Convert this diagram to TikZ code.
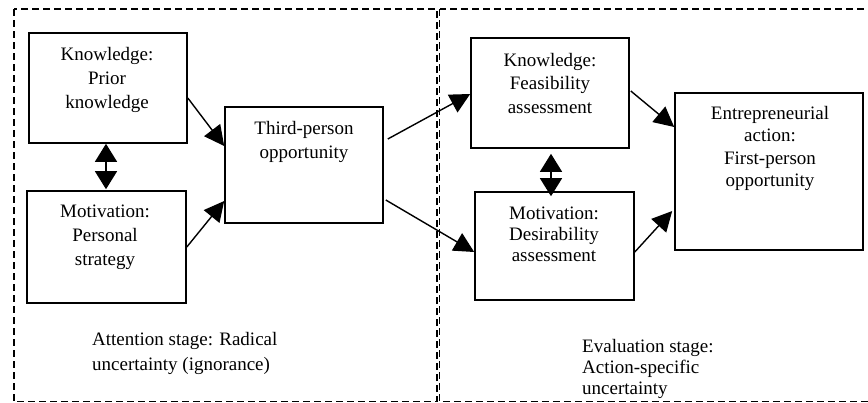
\documentclass[tikz,border=0pt]{standalone}
\usepackage{fontspec}
\setmainfont{Liberation Serif}
\usetikzlibrary{arrows.meta,calc}
\begin{document}
\begin{tikzpicture}[x=1pt,y=-1pt,
 box/.style={draw,line width=1.6pt,inner sep=0pt},
 txt/.style={align=center,inner sep=0pt,anchor=base},
 ltxt/.style={align=left,inner sep=0pt,anchor=base west},
 fs/.style={font=\fontsize{19}{#1}\selectfont},
 arr/.style={line width=1.4pt,-{Triangle[length=20pt,width=20pt]}},
 dbl/.style={line width=1.4pt,{Triangle[length=18pt,width=22pt]}-{Triangle[length=18pt,width=22pt]}},
 stage/.style={line width=1.3pt,dash pattern=on 7pt off 4pt}]
\useasboundingbox (0,0) rectangle (868,402);
% stage frames
\draw[stage] (14,9) rectangle (437,401.6);
\draw[stage] (439.5,9) rectangle (875,401.6);
% boxes
\node[box,minimum width=158pt,minimum height=110pt] (k1) at (108,88) {};
\node[box,minimum width=159pt,minimum height=112pt] (m1) at (106.5,247) {};
\node[box,minimum width=158pt,minimum height=116pt] (t) at (304,165) {};
\node[box,minimum width=158pt,minimum height=110pt] (k2) at (550,93) {};
\node[box,minimum width=159pt,minimum height=108pt] (m2) at (554.5,246) {};
\node[box,minimum width=188pt,minimum height=157pt] (e) at (769,171.5) {};
% texts (anchored at the baseline of the last line)
\node[txt,fs=24] (k1t) at (107,108) {Knowledge:\\Prior\\knowledge};
\node[txt,fs=24] (tt) at (304,158) {Third-person\\opportunity};
\node[txt,fs=24] (m1t) at (105,265.5) {Motivation:\\Personal\\strategy};
\node[txt,fs=23.5] (k2t) at (550,113) {Knowledge:\\Feasibility\\assessment};
\node[txt,fs=21] (m2t) at (554,261) {Motivation:\\Desirability\\assessment};
\node[txt,fs=22.5] (et) at (770,186.5) {Entrepreneurial\\action:\\First-person\\opportunity};
\node[ltxt,fs=25] (att) at (92,370.7) {Attention stage: Radical\\uncertainty (ignorance)};
\node[ltxt,fs=21] (eva) at (582,394.7) {Evaluation stage:\\Action-specific\\uncertainty};
% connectors
\draw[arr] ($(k1.east)+(0,10)$) -- ($(t.west)+(0,-19)$);
\draw[arr] (m1.east) -- ($(t.west)+(0,36)$);
\draw[dbl] ($(k1.south)+(-2,0)$) -- ($(k1.south |- m1.north)+(-2,-1)$);
\draw[arr] ($(t.east)+(4,-26)$) -- ($(k2.west)+(0,1)$);
\draw[arr] ($(t.east)+(2,35)$) -- ($(m2.west)+(0,6)$);
\draw[dbl] ($(k2.south)+(1,5)$) -- ($(k2.south |- m2.north)+(1,5)$);
\draw[arr] ($(k2.east)+(1,-2)$) -- ($(e.west)+(0,-44.5)$);
\draw[arr] ($(m2.east)+(0,6)$) -- ($(e.west)+(-2,39.5)$);
\end{tikzpicture}
\end{document}
